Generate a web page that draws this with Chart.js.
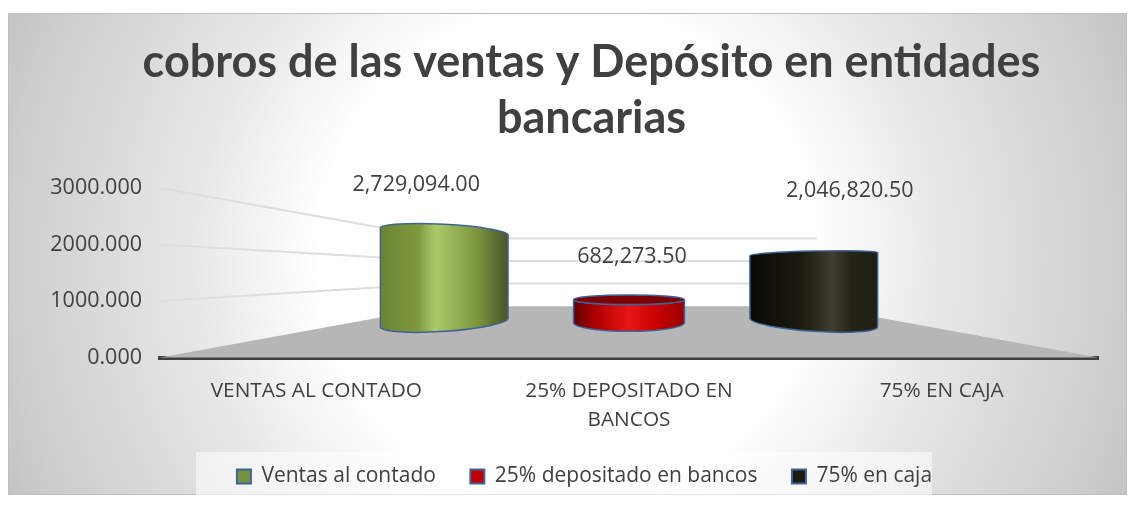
<!DOCTYPE html>
<html>
<head>
<meta charset="utf-8">
<style>
body { margin: 0; background: #fff; }
#wrap { width: 1135px; height: 507px; }
</style>
<script src="https://cdn.jsdelivr.net/npm/chart.js@4"></script>
</head>
<body>
<div id="wrap"><canvas id="myChart" width="1135" height="507"></canvas></div>
<script>
const titleLines = ['cobros de las ventas y Depósito en entidades', 'bancarias'];
const categories = ['VENTAS AL CONTADO', ['25% DEPOSITADO EN', 'BANCOS'], '75% EN CAJA'];
const legendNames = ['Ventas al contado', '25% depositado en bancos', '75% en caja'];
const values = [2729094, 682273.5, 2046820.5];
const axisTicks = [0, 1000000, 2000000, 3000000];

const swatchColors = ['#76923c', '#c00000', '#1d1b10'];
const outlineColor = '#3c6499';
const textColor = '#404040';

// shading across each cylinder: [stop, colour]
const shades = [
    [[0, '#6b8433'], [0.3, '#80993f'], [0.43, '#a9c96a'], [0.5, '#a0c060'], [0.75, '#7d963f'], [1, '#46552a']],
    [[0, '#5f0000'], [0.2, '#b00000'], [0.5, '#e81616'], [0.75, '#c80000'], [1, '#9a0000']],
    [[0, '#0a0a05'], [0.4, '#1a1a10'], [0.65, '#3f3d30'], [0.8, '#242317'], [1, '#201f14']]
];

// 3d look of the original: everything goes towards one vanishing point
const VANISH_Y = 272;
const WALL_DEPTH = 0.4;
const BAR_DEPTH = 0.591;

// data label shift from the top of each bar
const labelShift = [[-28, -47], [3, -43], [36, -63]];

function project(chart, x, y, k) {
    let vx = (chart.chartArea.left + chart.chartArea.right) / 2;
    return { x: vx + (x - vx) * k, y: VANISH_Y + (y - VANISH_Y) * k };
}

function drawBackground(chart) {
    let ctx = chart.ctx;
    ctx.save();
    ctx.fillStyle = '#fff';
    ctx.fillRect(0, 0, chart.width, chart.height);
    let grad = ctx.createRadialGradient(567, 255, 0, 567, 255, 620);
    grad.addColorStop(0, '#fff');
    grad.addColorStop(0.4, '#fff');
    grad.addColorStop(0.6, '#e8e8e8');
    grad.addColorStop(0.9, '#cdcdcd');
    grad.addColorStop(1, '#c2c2c2');
    ctx.fillStyle = grad;
    ctx.fillRect(8, 13, 1119, 482);
    ctx.strokeStyle = '#bfbfbf';
    ctx.strokeRect(8.5, 13.5, 1118, 481);
    // legend backing
    ctx.fillStyle = 'rgba(255,255,255,0.55)';
    ctx.fillRect(196, 452, 736, 45);
    ctx.restore();
}

function drawWalls(chart) {
    let ctx = chart.ctx;
    let area = chart.chartArea;
    let yScale = chart.scales.y;

    // floor
    let a = project(chart, area.left, area.bottom, WALL_DEPTH);
    let b = project(chart, area.right, area.bottom, WALL_DEPTH);
    ctx.save();
    ctx.fillStyle = '#b6b6b6';
    ctx.beginPath();
    ctx.moveTo(area.left, area.bottom);
    ctx.lineTo(a.x, a.y);
    ctx.lineTo(b.x, b.y);
    ctx.lineTo(area.right, area.bottom);
    ctx.closePath();
    ctx.fill();

    // grid lines, along the left wall then across the back
    ctx.strokeStyle = '#dedede';
    ctx.lineWidth = 2;
    axisTicks.forEach((tick) => {
        if (tick === 0) {
            return;
        }
        let y = yScale.getPixelForValue(tick);
        let p = project(chart, area.left, y, WALL_DEPTH);
        let q = project(chart, area.right, y, WALL_DEPTH);
        ctx.beginPath();
        ctx.moveTo(area.left, y);
        ctx.lineTo(p.x, p.y);
        ctx.lineTo(q.x, q.y);
        ctx.stroke();
    });
    ctx.restore();
}

function drawCylinder(chart, bar, index) {
    let ctx = chart.ctx;
    let top = project(chart, bar.x, bar.y, BAR_DEPTH);
    let bottom = project(chart, bar.x, bar.base, BAR_DEPTH);
    let vx = (chart.chartArea.left + chart.chartArea.right) / 2;
    let dx = bottom.x - vx;
    let rx = (bar.width * BAR_DEPTH + Math.abs(dx) * 0.092) / 2;

    let tilt = (y) => Math.abs(dx) < 1 ? 0 : Math.atan(0.25 * (VANISH_Y - y) / -dx);
    let topTilt = tilt(top.y);
    let bottomTilt = tilt(bottom.y);
    let topRy = Math.abs(VANISH_Y - top.y) * 0.175;
    let bottomRy = Math.abs(VANISH_Y - bottom.y) * 0.175;

    let grad = ctx.createLinearGradient(top.x - rx, 0, top.x + rx, 0);
    shades[index].forEach((s) => grad.addColorStop(s[0], s[1]));

    ctx.save();
    ctx.beginPath();
    if (top.y < VANISH_Y) {
        // seen from below, only the near rim of the top shows
        ctx.ellipse(top.x, top.y, rx, topRy, topTilt, Math.PI, Math.PI * 2);
    } else {
        ctx.ellipse(top.x, top.y, rx, topRy, topTilt, Math.PI, 0, true);
    }
    ctx.ellipse(bottom.x, bottom.y, rx, bottomRy, bottomTilt, 0, Math.PI);
    ctx.closePath();
    ctx.fillStyle = grad;
    ctx.fill();
    ctx.strokeStyle = outlineColor;
    ctx.lineWidth = 1.5;
    ctx.stroke();

    if (top.y >= VANISH_Y) {
        ctx.beginPath();
        ctx.ellipse(top.x, top.y, rx, topRy, topTilt, 0, Math.PI * 2);
        ctx.fillStyle = '#7c0000';
        ctx.fill();
        ctx.stroke();
    }
    ctx.restore();

    // value label
    ctx.save();
    ctx.font = '21.5px "Open Sans"';
    ctx.fillStyle = textColor;
    ctx.textAlign = 'center';
    ctx.textBaseline = 'middle';
    let label = values[index].toLocaleString('en-US', { minimumFractionDigits: 2, maximumFractionDigits: 2 });
    ctx.fillText(label, top.x + labelShift[index][0], top.y + labelShift[index][1]);
    ctx.restore();
}

const cylinderPlugin = {
    id: 'cylinders',
    beforeDraw: drawBackground,
    afterLayout(chart) {
        // title and legend sit right of centre in the original
        chart.titleBlock.left += 24;
        chart.titleBlock.right += 24;
        chart.legend.left += 17;
        chart.legend.right += 17;
    },
    beforeDatasetsDraw(chart) {
        drawWalls(chart);
        chart.getDatasetMeta(0).data.forEach((bar, i) => drawCylinder(chart, bar, i));
        // flat bars are replaced by the cylinders above
        return false;
    }
};

function legendItems() {
    return legendNames.map((name, i) => ({
        text: name,
        fillStyle: swatchColors[i],
        strokeStyle: outlineColor,
        lineWidth: 2,
        fontColor: textColor,
        index: i
    }));
}

let ctx = document.getElementById('myChart').getContext('2d');
let chart = new Chart(ctx, {
    type: 'bar',
    data: {
        labels: categories,
        datasets: [{
            label: 'cobros',
            data: values,
            backgroundColor: swatchColors,
            barPercentage: 0.6,
            categoryPercentage: 1
        }]
    },
    plugins: [cylinderPlugin],
    options: {
        responsive: false,
        animation: false,
        layout: { padding: { bottom: 10 } },
        plugins: {
            tooltip: { enabled: false },
            title: {
                display: true,
                text: titleLines,
                color: textColor,
                font: { family: 'Lato', weight: 'bold', size: 45, lineHeight: 1.245 },
                padding: { top: 34, bottom: 42 }
            },
            legend: {
                position: 'bottom',
                labels: {
                    generateLabels: legendItems,
                    boxWidth: 14,
                    boxHeight: 14,
                    padding: 34.5,
                    color: textColor,
                    font: { family: 'Open Sans', size: 21 }
                }
            }
        },
        scales: {
            x: {
                z: 1,
                grid: { display: false },
                border: { color: '#404040', width: 4 },
                ticks: {
                    color: textColor,
                    padding: 11,
                    maxRotation: 0,
                    font: { family: 'Open Sans', size: 20.8, lineHeight: 1.4 }
                },
                afterFit(scale) { scale.height = 74; }
            },
            y: {
                min: 0,
                max: 3000000,
                grid: { display: false },
                border: { display: false },
                ticks: {
                    stepSize: 1000000,
                    color: textColor,
                    padding: 10,
                    font: { family: 'Open Sans', size: 21.5 },
                    callback: (v) => (v / 1000).toFixed(3)
                },
                afterFit(scale) { scale.width = 160; }
            },
            // empty axis, only keeps the plot off the right edge
            spacer: {
                position: 'right',
                grid: { display: false },
                border: { display: false },
                ticks: { display: false },
                afterFit(scale) { scale.width = 37; }
            }
        }
    }
});
</script>
</body>
</html>
